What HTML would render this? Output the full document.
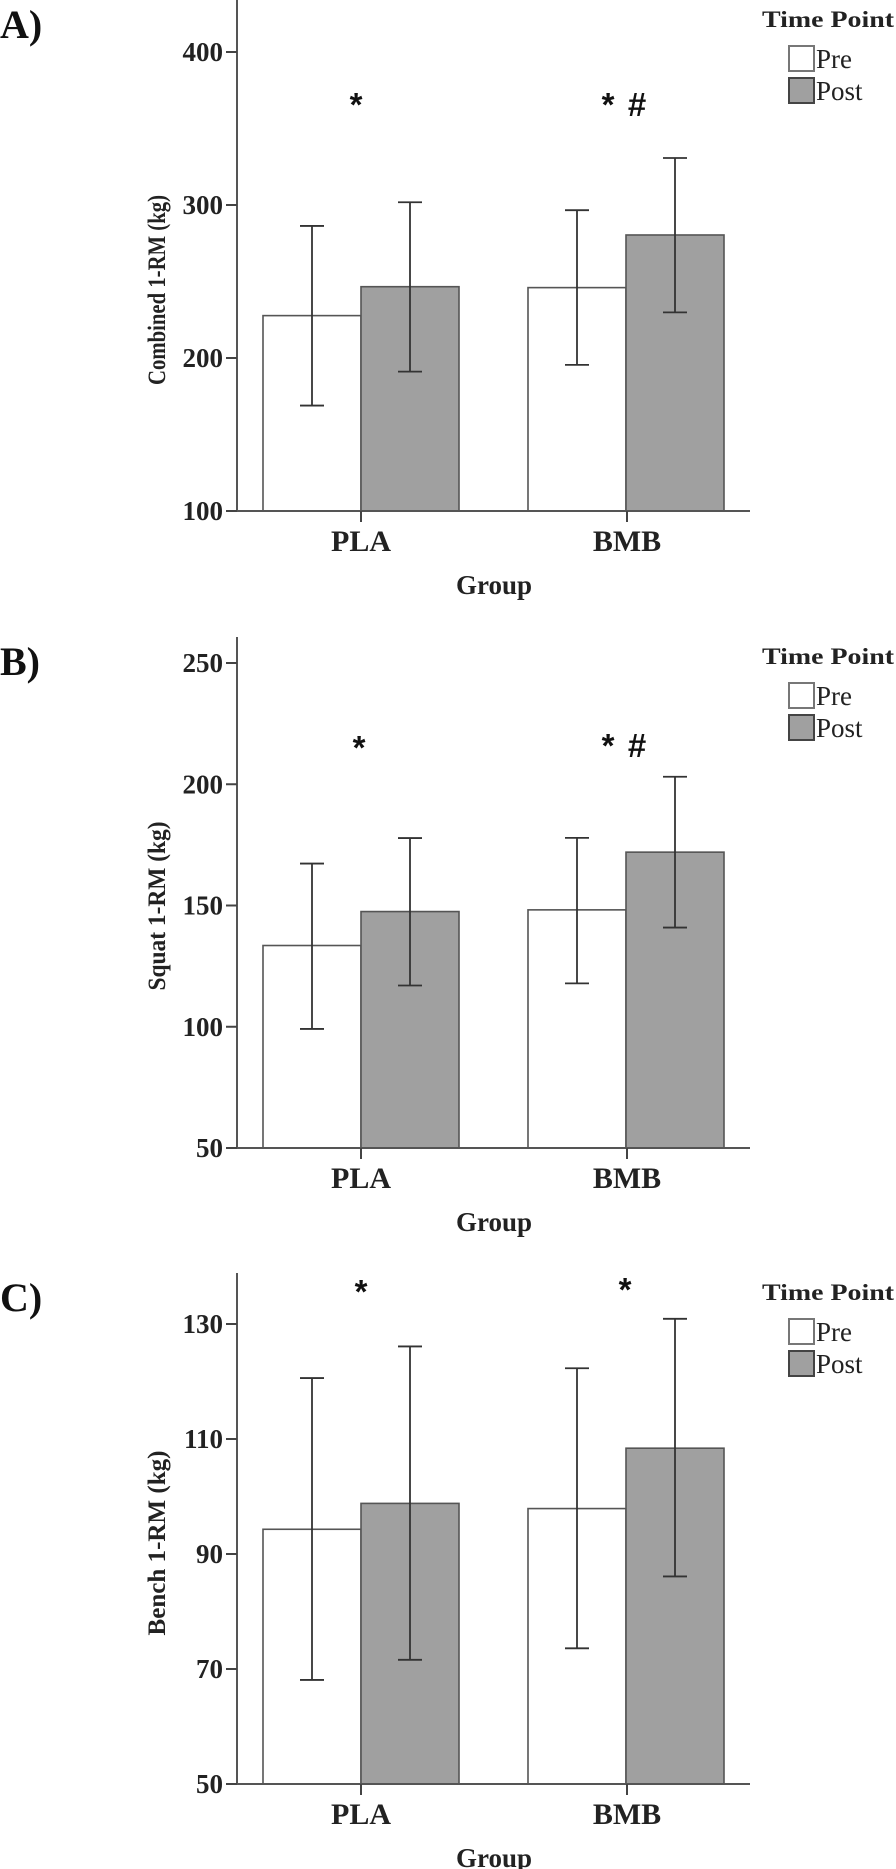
<!DOCTYPE html>
<html><head><meta charset="utf-8"><style>
html,body{margin:0;padding:0;background:#fff;}
svg{display:block;font-family:"Liberation Serif",serif;}
</style></head><body>
<svg id="chart" width="896" height="1869" viewBox="0 0 896 1869" xmlns="http://www.w3.org/2000/svg"></svg>
<script>
const categories = ["PLA", "BMB"];
const seriesNames = ["Pre", "Post"];
// Panel A: Combined
const aTicks = [100, 200, 300, 400];
const aPre = [227.7, 246.0];
const aPost = [246.6, 280.4];
const aPreLo = [168.9, 195.5];
const aPreHi = [286.3, 296.6];
const aPostLo = [191.1, 229.8];
const aPostHi = [301.8, 330.7];
// Panel B: Squat
const bTicks = [50, 100, 150, 200, 250];
const bPre = [133.5, 148.2];
const bPost = [147.5, 172.0];
const bPreLo = [99.1, 117.9];
const bPreHi = [167.3, 177.9];
const bPostLo = [117.0, 140.9];
const bPostHi = [177.8, 203.1];
// Panel C: Bench
const cTicks = [50, 70, 90, 110, 130];
const cPre = [94.3, 97.9];
const cPost = [98.8, 108.4];
const cPreLo = [68.1, 73.6];
const cPreHi = [120.6, 122.3];
const cPostLo = [71.6, 86.1];
const cPostHi = [126.1, 130.9];

const NS = "http://www.w3.org/2000/svg";
const svg = document.getElementById("chart");
function mk(tag, attrs, parent) {
  const e = document.createElementNS(NS, tag);
  for (const k in attrs) e.setAttribute(k, attrs[k]);
  (parent || svg).appendChild(e);
  return e;
}
function panel(cfg) {
  const off = cfg.off;
  const g = mk("g", {});
  
  
  const axX = 237, axR = 750, axTop = off, axBot = off + 511;
  const y = v => axBot - (v - cfg.min) / (cfg.max - cfg.min) * (cfg.maxPx);
  const pl = mk("text", {x: 0, y: off + 38, "font-size": 40, "font-weight": "bold", fill: "#111"}, g);
  pl.textContent = cfg.letter;
  
  
  const yt = mk("text", {x: 0, y: 0, "font-size": 25, "font-weight": "bold", fill: "#222", "text-anchor": "middle",
    transform: `translate(${165},${off + cfg.titleY}) rotate(-90)`, textLength: cfg.titleLen, lengthAdjust: "spacingAndGlyphs"}, g);
  yt.textContent = cfg.title;
  
  
  const xs = [[263, 361], [528, 627]];
  const sets = [[cfg.pre, cfg.preLo, cfg.preHi, "#ffffff", 0], [cfg.post, cfg.postLo, cfg.postHi, "#a0a0a0", 1]];
  categories.forEach((c, i) => {
    sets.forEach(([vals, lo, hi, fill, s]) => {
      const x0 = xs[i][0] + s * 98;
      const top = y(vals[i]);
      const r = mk("rect", {x: x0, y: top, width: 98, height: axBot - top, fill: fill, stroke: "#555", "stroke-width": 1.6}, g);
      
      
      const cx = x0 + 49;
      const eg = mk("g", {stroke: "#333", "stroke-width": 1.8}, g);
      
      
      mk("line", {x1: cx, x2: cx, y1: y(hi[i]), y2: y(lo[i])}, eg);
      mk("line", {x1: cx - 12, x2: cx + 12, y1: y(hi[i]), y2: y(hi[i])}, eg);
      mk("line", {x1: cx - 12, x2: cx + 12, y1: y(lo[i]), y2: y(lo[i])}, eg);
    });
  });
  const ya = mk("line", {x1: axX, x2: axX, y1: axTop, y2: axBot + 1, stroke: "#555", "stroke-width": 2}, g);
  
  
  const xa = mk("line", {x1: axX, x2: axR, y1: axBot, y2: axBot, stroke: "#555", "stroke-width": 2}, g);
  
  
  cfg.ticks.forEach(t => {
    const ty = y(t);
    mk("line", {x1: axX - 11, x2: axX, y1: ty, y2: ty, stroke: "#444", "stroke-width": 2}, g);
    const tl = mk("text", {x: 223, y: ty + 9, "font-size": 27, "font-weight": "bold", fill: "#222", "text-anchor": "end"}, g);
    tl.textContent = t;
    
    
  });
  [361, 627].forEach((tx, i) => {
    mk("line", {x1: tx, x2: tx, y1: axBot, y2: axBot + 11, stroke: "#444", "stroke-width": 2}, g);
    const cl = mk("text", {x: tx, y: axBot + 40, "font-size": 30, "font-weight": "bold", fill: "#222", "text-anchor": "middle"}, g);
    cl.textContent = categories[i];
    
    
  });
  const xt = mk("text", {x: 494, y: axBot + 83, "font-size": 27, "font-weight": "bold", fill: "#222", "text-anchor": "middle"}, g);
  xt.textContent = "Group";
  
  
  cfg.marks.forEach(m => {
    const t = mk("text", {x: m[0], y: off + m[1], "font-size": 33, "font-weight": "bold", fill: "#111", "text-anchor": "middle", "font-family": "Liberation Sans, sans-serif"}, g);
    t.textContent = m[2];
    
    
  });
  const lg = mk("g", {}, g);
  
  
  const lt = mk("text", {x: 762, y: off + 27, "font-size": 23, "font-weight": "bold", fill: "#222", textLength: 132, lengthAdjust: "spacingAndGlyphs"}, lg);
  lt.textContent = "Time Point";
  
  
  seriesNames.forEach((s, i) => {
    const by = off + 46 + i * 32;
    const lb = mk("rect", {x: 789, y: by, width: 25, height: 25, fill: i ? "#a0a0a0" : "#fff", stroke: i ? "#444" : "#777", "stroke-width": 2}, lg);
    
    
    const ltx = mk("text", {x: 816, y: by + 22, "font-size": 27, fill: "#222"}, lg);
    ltx.textContent = s;
    
    
  });
}
panel({name: "panel-a-combined", letter: "A)", off: 0, min: 100, max: 400, maxPx: 459, ticks: aTicks,
  pre: aPre, post: aPost, preLo: aPreLo, preHi: aPreHi, postLo: aPostLo, postHi: aPostHi,
  title: "Combined 1-RM (kg)", titleY: 290, titleLen: 190,
  marks: [[356, 116, "*"], [608, 116, "*"], [637, 116, "#"]]});
panel({name: "panel-b-squat", letter: "B)", off: 637, min: 50, max: 250, maxPx: 485, ticks: bTicks,
  pre: bPre, post: bPost, preLo: bPreLo, preHi: bPreHi, postLo: bPostLo, postHi: bPostHi,
  title: "Squat 1-RM (kg)", titleY: 269, titleLen: 169,
  marks: [[359, 122, "*"], [608, 120, "*"], [637, 120, "#"]]});
panel({name: "panel-c-bench", letter: "C)", off: 1273, min: 50, max: 130, maxPx: 460, ticks: cTicks,
  pre: cPre, post: cPost, preLo: cPreLo, preHi: cPreHi, postLo: cPostLo, postHi: cPostHi,
  title: "Bench 1-RM (kg)", titleY: 270, titleLen: 185,
  marks: [[361, 30, "*"], [625, 28, "*"]]});
</script>
</body></html>
